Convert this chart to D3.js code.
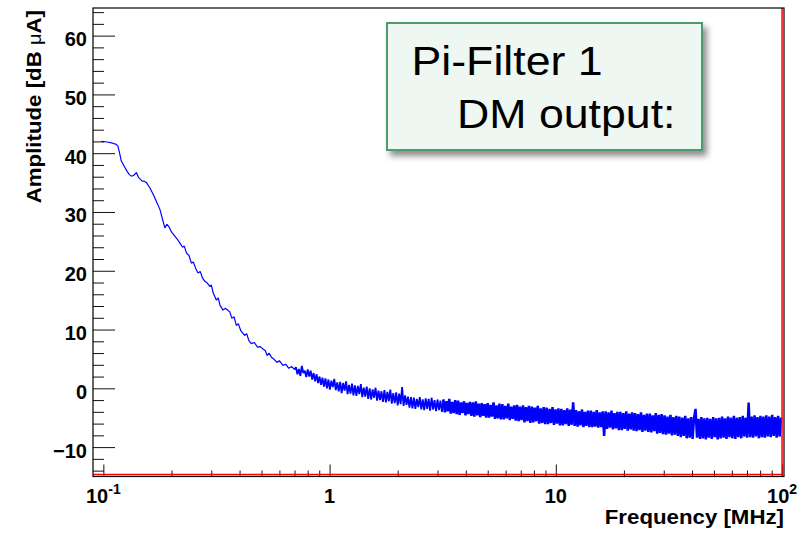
<!DOCTYPE html>
<html>
<head>
<meta charset="utf-8">
<script src="https://cdn.jsdelivr.net/npm/d3@7"></script>
<style>
  body { margin: 0; background: #fff; }
  svg { display: block; font-family: "Liberation Sans", Arial, sans-serif; }
</style>
</head>
<body>
<svg id="chart"></svg>
<script>
// low-frequency part of the trace, read point by point (MHz, dB uA)
const smoothFreq = [0.098, 0.104, 0.110, 0.114, 0.116, 0.118, 0.120, 0.124, 0.127, 0.130,
  0.133, 0.136, 0.140, 0.143, 0.148, 0.152, 0.155, 0.160, 0.166, 0.172,
  0.178, 0.183, 0.187, 0.191, 0.195, 0.200, 0.207, 0.212, 0.218, 0.224,
  0.228, 0.233, 0.239, 0.245, 0.250, 0.256, 0.262, 0.268, 0.274, 0.281,
  0.288, 0.296, 0.300, 0.306, 0.316, 0.322, 0.328, 0.338, 0.345, 0.352,
  0.362, 0.370, 0.378, 0.387, 0.395, 0.405, 0.421, 0.430, 0.440, 0.451,
  0.465, 0.480, 0.494, 0.508, 0.520, 0.530, 0.540, 0.553, 0.570, 0.585,
  0.600, 0.622, 0.640, 0.660, 0.680, 0.700];
const smoothAmp = [42.0, 41.9, 41.7, 41.5, 41.2, 40.0, 38.7, 37.7, 37.0, 36.4,
  36.1, 36.2, 36.7, 35.9, 35.3, 35.2, 35.0, 34.2, 33.0, 31.7,
  30.4, 28.6, 27.3, 27.9, 27.5, 26.6, 25.9, 25.4, 24.7, 24.0,
  24.2, 23.0, 22.6, 21.3, 21.5, 20.4, 19.6, 19.9, 18.8, 18.2,
  17.9, 17.3, 17.6, 16.2, 15.0, 15.4, 14.1, 13.3, 13.6, 13.4,
  13.0, 11.9, 12.2, 10.7, 11.0, 9.8, 9.0, 9.3, 8.1, 7.6,
  7.8, 7.0, 7.1, 6.7, 6.4, 5.6, 6.0, 5.3, 4.9, 4.4,
  4.7, 3.9, 4.1, 3.4, 3.7, 3.2];

// noisy part: sweep bins evenly spaced on the log axis between these two frequencies
const noiseStart = 0.71;
const noiseEnd = 99;
const noiseAmp = [
  3.6, 2.4, 3.3, 2.1, 3.8, 2.6, 3.0, 1.9, 3.2, 2.0,
  3.0, 1.5, 2.6, 1.2, 2.4, 0.9, 2.0, 0.6, 1.8, 0.3,
  1.7, 0.0, 1.5, -0.2, 1.3, 0.2, 1.6, -0.3, 1.0, -0.5,
  1.1, -0.8, 0.9, -0.4, 1.2, -1.0, 0.6, -0.9, 0.8, -1.2,
  0.5, -1.3, 0.4, -1.0, 0.7, -1.5, 0.1, -1.4, 0.3, -1.8,
  0.0, -1.9, -0.2, -1.6, 0.1, -2.1, -0.4, -2.0, -0.5, -2.3,
  -0.3, -2.4, -0.6, -2.2, -0.2, -2.6, -0.8, -2.5, -0.7, -2.9,
  -0.9, -2.7, 0.2, -3.0, -1.2, -2.8, -1.4, -3.3, -1.5, -3.4,
  -1.6, -3.5, -1.8, -3.2, -1.5, -3.6, -1.9, -3.7, -1.7, -3.5,
  -1.8, -3.8, -1.6, -3.6, -2.0, -3.9, -1.9, -3.7, -2.1, -4.0,
  -1.9, -4.1, -2.2, -3.9, -1.8, -4.3, -2.3, -4.2, -2.0, -4.4,
  -2.1, -4.5, -2.4, -4.2, -2.2, -4.6, -2.5, -4.4, -2.3, -4.7,
  -2.4, -4.8, -2.2, -4.6, -2.6, -4.9, -2.5, -4.7, -2.7, -5.0,
  -2.5, -5.0, -2.8, -4.8, -2.4, -5.2, -2.9, -5.1, -2.6, -5.3,
  -2.7, -5.3, -3.0, -5.1, -2.6, -5.4, -3.1, -5.2, -2.9, -5.5,
  -2.8, -5.6, -3.1, -5.4, -2.9, -5.8, -3.2, -5.6, -3.0, -5.9,
  -3.1, -5.8, -3.3, -5.6, -3.0, -6.0, -3.4, -5.9, -3.2, -6.1,
  -3.3, -6.1, -3.5, -5.9, -3.2, -6.2, -3.6, -6.0, -3.4, -6.3,
  -3.5, -6.3, -3.7, -6.1, -3.4, -6.4, -3.6, -6.2, -2.4, -6.4,
  -3.7, -6.5, -3.9, -6.3, -3.6, -6.6, -4.0, -6.4, -3.8, -6.6,
  -3.8, -6.6, -4.0, -6.5, -3.7, -6.7, -4.1, -6.6, -3.9, -8.1,
  -3.9, -6.9, -4.1, -6.7, -3.8, -7.0, -4.2, -6.8, -4.0, -7.1,
  -4.0, -7.1, -4.2, -6.9, -3.9, -7.2, -4.3, -7.0, -4.1, -7.2,
  -4.2, -7.3, -4.4, -7.1, -4.1, -7.4, -4.5, -7.2, -4.3, -7.4,
  -4.3, -7.5, -4.6, -7.3, -4.2, -7.7, -4.5, -7.6, -4.4, -7.8,
  -4.6, -7.9, -4.8, -7.7, -4.5, -8.0, -4.9, -7.9, -4.7, -8.1,
  -4.8, -8.3, -5.0, -8.1, -4.7, -8.5, -5.1, -8.4, -4.9, -8.6,
  -5.0, -3.5, -8.4, -5.2, -8.6, -4.9, -8.5, -5.1, -8.7, -5.0,
  -8.4, -5.2, -8.6, -4.9, -8.3, -5.1, -8.7, -5.0, -8.5, -4.8,
  -8.4, -5.1, -8.6, -4.8, -8.3, -5.0, -8.5, -4.7, -8.6, -5.0,
  -8.3, -4.9, -8.5, -4.7, -8.2, -5.0, -8.4, -2.4, -8.3, -4.8,
  -8.4, -4.6, -8.2, -4.9, -8.5, -4.7, -8.3, -4.8, -8.4, -4.6,
  -8.2, -4.8, -8.3, -4.5, -8.1, -4.9, -8.4, -4.7, -8.2, -5.0
];

const yTicks = [-10, 0, 10, 20, 30, 40, 50, 60];
const xTicks = [0.1, 1, 10, 100];
const xTickBase = ["10", "1", "10", "10"];
const xTickExp = ["-1", "", "", "2"];

const legendLines = ["Pi-Filter 1", "DM output:"];

const width = 809, height = 534;
const plot = { left: 93, right: 784, top: 8, bottom: 476.5 };

const svg = d3.select("#chart").attr("width", width).attr("height", height);

const xScale = d3.scaleLog().domain([0.09, 102]).range([plot.left, plot.right]);
const yScale = d3.scaleLinear().domain([-15, 64.7]).range([plot.bottom, plot.top]);

// hand read smooth points, then the noisy sweep (starts from the last smooth point)
const noiseFreq = d3.scaleLinear()
  .domain([0, noiseAmp.length - 1])
  .range([Math.log10(noiseStart), Math.log10(noiseEnd)]);
const smoothTrace = smoothFreq.map((f, i) => ({ f, a: smoothAmp[i] }));
const noisePts = noiseAmp.map((a, i) => ({ f: Math.pow(10, noiseFreq(i)), a }));
// below ~3 MHz the sweep is sparse, above it the bins pile up into a solid band
const split = 100;
const noiseLow = [smoothTrace[smoothTrace.length - 1]].concat(noisePts.slice(0, split + 1));
const noiseHigh = noisePts.slice(split);

svg.append("defs").append("clipPath").attr("id", "plotClip")
  .append("rect")
  .attr("x", plot.left).attr("y", plot.top)
  .attr("width", plot.right - plot.left).attr("height", plot.bottom - plot.top);

const line = d3.line().x((d) => xScale(d.f)).y((d) => yScale(d.a));

[[smoothTrace, 1.2], [noiseLow, 1.8], [noiseHigh, 2.5]].forEach(([pts, w]) => {
  svg.append("path")
    .datum(pts)
    .attr("clip-path", "url(#plotClip)")
    .attr("fill", "none")
    .attr("stroke", "#0000ff")
    .attr("stroke-width", w)
    .attr("stroke-linejoin", "bevel")
    .attr("d", line);
});

// ticks drawn inward, ROOT style
const minorY = d3.range(-14, 65, 2).filter((v) => v % 10 !== 0);
const minorX = [];
[0.1, 1, 10].forEach((dec) => d3.range(2, 10).forEach((k) => minorX.push(k * dec)));

const yMajor = svg.append("g")
  .attr("transform", `translate(${plot.left},0)`)
  .call(d3.axisLeft(yScale).tickValues(yTicks).tickSize(-22).tickSizeOuter(0).tickPadding(6));
svg.append("g")
  .attr("transform", `translate(${plot.left},0)`)
  .call(d3.axisLeft(yScale).tickValues(minorY).tickSize(-11).tickSizeOuter(0).tickFormat(""));
svg.append("g")
  .attr("transform", `translate(0,${plot.bottom})`)
  .call(d3.axisBottom(xScale).tickValues(xTicks).tickSize(-12).tickSizeOuter(0).tickFormat(""));
svg.append("g")
  .attr("transform", `translate(0,${plot.bottom})`)
  .call(d3.axisBottom(xScale).tickValues(minorX).tickSize(-6).tickSizeOuter(0).tickFormat(""));

svg.selectAll(".domain").remove();
svg.selectAll(".tick line").attr("stroke", "#111").attr("stroke-width", 1);

yMajor.selectAll(".tick text")
  .attr("font-family", "'Liberation Sans', Arial, sans-serif")
  .attr("font-size", 20)
  .attr("font-weight", "bold")
  .attr("fill", "#000")
  .attr("dy", "0.5em");

// x tick labels with exponent
const xLabels = svg.append("g")
  .attr("font-size", 20).attr("font-weight", "bold").attr("fill", "#000");
xTicks.forEach((t, i) => {
  const txt = xLabels.append("text")
    .attr("x", xScale(t))
    .attr("y", 503)
    .attr("text-anchor", "middle");
  txt.append("tspan").text(xTickBase[i]);
  if (xTickExp[i]) {
    txt.append("tspan").attr("dy", -9).attr("font-size", 14).text(xTickExp[i]);
  }
});

// red histogram outline along bottom and right edge
svg.append("line")
  .attr("x1", plot.left).attr("x2", xScale(100))
  .attr("y1", plot.bottom - 2).attr("y2", plot.bottom - 2)
  .attr("stroke", "#ff0000").attr("stroke-width", 1.5);
svg.append("line")
  .attr("x1", xScale(100)).attr("x2", xScale(100))
  .attr("y1", plot.top).attr("y2", plot.bottom)
  .attr("stroke", "#ff0000").attr("stroke-width", 1.5);

// frame
svg.append("rect")
  .attr("x", plot.left).attr("y", plot.top)
  .attr("width", plot.right - plot.left).attr("height", plot.bottom - plot.top)
  .attr("fill", "none").attr("stroke", "#000").attr("stroke-width", 1.2);

// axis titles
svg.append("text")
  .attr("transform", `translate(${plot.right},524) scale(1.06,1)`)
  .attr("text-anchor", "end")
  .attr("font-size", 21).attr("font-weight", "bold")
  .text("Frequency [MHz]");

const yTitle = svg.append("text")
  .attr("transform", "translate(41,10) rotate(-90) scale(1.06,1)")
  .attr("text-anchor", "end")
  .attr("font-size", 21).attr("font-weight", "bold");
yTitle.append("tspan").text("Amplitude [dB ");
yTitle.append("tspan").attr("font-weight", "normal").attr("font-size", 19).text("\u03bc");
yTitle.append("tspan").text("A]");

// legend box with drop shadow
const shadow = svg.select("defs").append("filter").attr("id", "shadow")
  .attr("x", "-10%").attr("y", "-10%").attr("width", "130%").attr("height", "140%");
shadow.append("feDropShadow")
  .attr("dx", 4).attr("dy", 5).attr("stdDeviation", 3)
  .attr("flood-color", "#000").attr("flood-opacity", 0.45);

svg.append("rect")
  .attr("x", 387).attr("y", 23).attr("width", 315).attr("height", 127)
  .attr("fill", "#eef7f1").attr("stroke", "#4f9b70").attr("stroke-width", 2)
  .attr("filter", "url(#shadow)");

const legendPos = [[411.5, 74.5], [457, 128]];
legendLines.forEach((text, i) => {
  svg.append("text")
    .attr("transform", `translate(${legendPos[i][0]},${legendPos[i][1]}) scale(1.09,1)`)
    .attr("font-size", 41)
    .attr("fill", "#000")
    .text(text);
});
</script>
</body>
</html>
